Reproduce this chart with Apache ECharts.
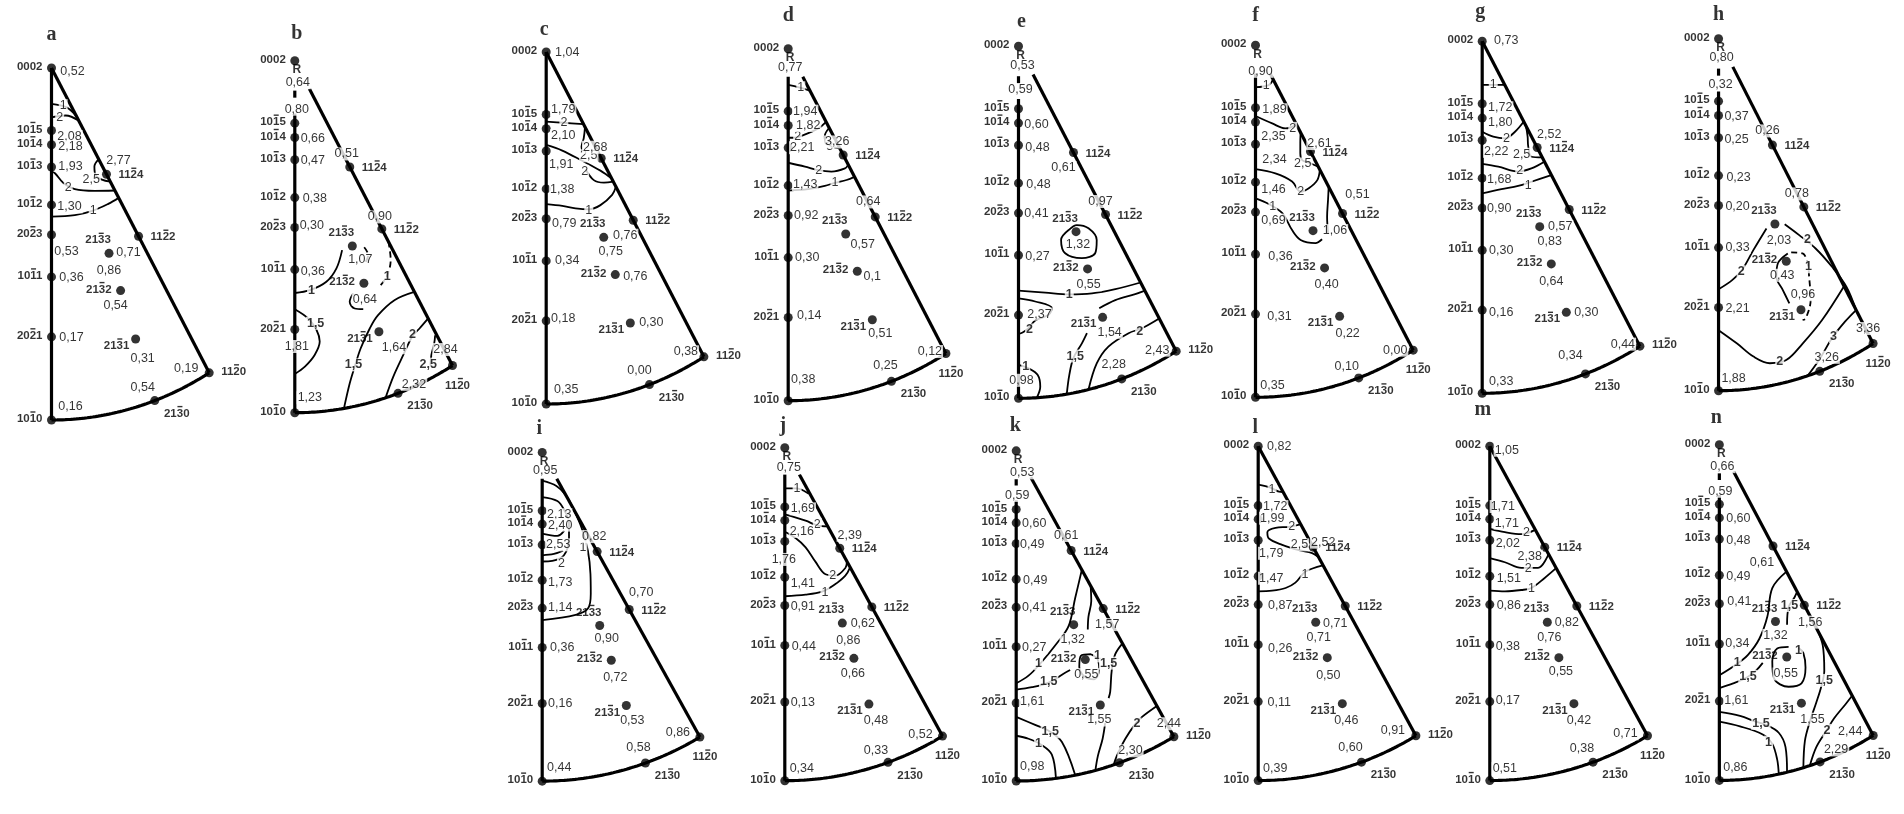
<!DOCTYPE html>
<html><head><meta charset="utf-8">
<script src="https://cdn.jsdelivr.net/npm/echarts/dist/echarts.min.js"></script>
<style>html,body{margin:0;padding:0;background:#fff}#c{width:1904px;height:814px}</style>
</head><body><div id="c"></div>
<script>
// ---------------- DATA ----------------
const PANELS = ['a','b','c','d','e','f','g','h','i','j','k','l','m','n'];
// pole names; the digit at position 2 (0-based) carries an overbar (negative index)
const poleNames = ['0002','1015','1014','1013','1012','2023','1011','2021','1010','1124','1122','1120','2130','2133','2132','2131'];
const poleBar   = [-1,2,2,2,2,2,2,2,2,2,2,2,2,2,2,2];
const poleHKL = [[0,0,2],[1,0,5],[1,0,4],[1,0,3],[1,0,2],[2,0,3],[1,0,1],[2,0,1],[1,0,0],[1,1,4],[1,1,2],[1,1,0],[2,1,0],[2,1,3],[2,1,2],[2,1,1]];
const C_OVER_A = 1.587;

const vals_a = [0.52,2.08,2.18,1.93,1.30,0.53,0.36,0.17,0.16,2.77,0.71,0.19,0.54,0.86,0.54,0.31];
const vals_b = [0.64,0.80,0.66,0.47,0.38,0.30,0.36,1.81,1.23,0.51,0.90,2.84,2.32,1.07,0.64,1.64];
const vals_c = [1.04,1.79,2.10,1.91,1.38,0.79,0.34,0.18,0.35,2.68,0.76,0.38,0.00,0.75,0.76,0.30];
const vals_d = [0.77,1.94,1.82,2.21,1.43,0.92,0.30,0.14,0.38,3.26,0.64,0.12,0.25,0.57,0.1,0.51];
const vals_e = [0.53,0.59,0.60,0.48,0.48,0.41,0.27,2.37,0.98,0.61,0.97,2.43,2.28,1.32,0.55,1.54];
const vals_f = [0.90,1.89,2.35,2.34,1.46,0.69,0.36,0.31,0.35,2.61,0.51,0.00,0.10,1.06,0.40,0.22];
const vals_g = [0.73,1.72,1.80,2.22,1.68,0.90,0.30,0.16,0.33,2.52,0.57,0.44,0.34,0.83,0.64,0.30];
const vals_h = [0.80,0.32,0.37,0.25,0.23,0.20,0.33,2.21,1.88,0.26,0.78,3.36,3.26,2.03,0.43,0.96];
const vals_i = [0.95,2.13,2.40,2.53,1.73,1.14,0.36,0.16,0.44,0.82,0.70,0.86,0.58,0.90,0.72,0.53];
const vals_j = [0.75,1.69,2.16,1.76,1.41,0.91,0.44,0.13,0.34,2.39,0.62,0.52,0.33,0.86,0.66,0.48];
const vals_k = [0.53,0.59,0.60,0.49,0.49,0.41,0.27,1.61,0.98,0.61,1.57,2.44,2.30,1.32,0.55,1.55];
const vals_l = [0.82,1.72,1.99,1.79,1.47,0.87,0.26,0.11,0.39,2.52,0.71,0.91,0.60,0.71,0.50,0.46];
const vals_m = [1.05,1.71,1.71,2.02,1.51,0.86,0.38,0.17,0.51,2.38,0.82,0.71,0.38,0.76,0.55,0.42];
const vals_n = [0.66,0.59,0.60,0.48,0.49,0.41,0.34,1.61,0.86,0.61,1.56,2.44,2.29,1.32,0.55,1.55];
const VALUES = {a:vals_a,b:vals_b,c:vals_c,d:vals_d,e:vals_e,f:vals_f,g:vals_g,h:vals_h,i:vals_i,j:vals_j,k:vals_k,l:vals_l,m:vals_m,n:vals_n};

// iso-density lines, in projection units (10-10 = (0,0), 0002 = (0,100))
const cont_a = [
 {lv:'1', at:[3.7,89.3], p:[[0,89.8],[4.8,88.8],[8.0,86.2]]},
 {lv:'2', at:[2.6,86], p:[[0,86],[4.5,86.5],[8.7,85]]},
 {lv:'2,5', at:[12.6,68.4], p:[[15.0,74.1],[13.6,72],[14.0,69.5],[16,68.3],[18.6,67.7]]},
 {lv:'2', at:[5.3,66.1], p:[[0,70.6],[1.1,70.1],[3.7,67.4],[7.4,65.6],[13.7,65.1],[20.1,65.2]]},
 {lv:'1', at:[13.2,59.5], p:[[0,57.8],[7.4,58.2],[13.2,59.5],[18,61.4],[21.3,63.1]]}
];
const cont_b = [
 {lv:'1', at:[5.3,34.8], p:[[0,34.0],[4.8,34.8],[10.0,37.2],[13.2,41.0],[15.0,46.2]]},
 {lv:'', dash:true, p:[[22.0,47.0],[23.3,44.8],[22.2,42.4]]},
 {lv:'1', dash:true, at:[29.3,38.8], p:[[29.7,48.6],[30.4,43.4],[29.1,38.6],[26.6,35.6]]},
 {lv:'', p:[[18.5,33.9],[17.4,31.5],[19.0,29.6],[21.7,29.4]]},
 {lv:'1,5', at:[6.6,25.4], p:[[0,29.4],[4.2,26.8],[6.9,23.5],[7.9,20.2],[6.3,16.4],[3.2,13.1],[0,11.0]]},
 {lv:'1,5', at:[18.6,13.6], p:[[37.9,34.3],[31.7,32.0],[26.4,27.7],[23.8,24.0],[20.9,18.3],[19.0,13.1],[17.4,8.3],[15.6,1.3]]},
 {lv:'2', at:[37.3,22.1], p:[[42.3,26.8],[39.6,24.0],[37.2,21.6],[34.4,16.4],[31.2,10.2],[28.8,4.3]]},
 {lv:'2,5', at:[42.3,13.8], p:[[44.5,22.0],[44.2,19.7],[43.3,16.4],[43.0,13.5]]}
];
const cont_c = [
 {lv:'2', at:[5.6,79.9], p:[[0,80.2],[5.6,79.9],[11.8,79.5]]},
 {lv:'2,5', at:[13.5,70.5], p:[[12.3,78.7],[11.9,75.5],[11.2,73.1],[11.6,71.4]]},
 {lv:'', p:[[0,73.6],[5.1,72.0],[11.4,69.1],[17.2,66.3],[20.7,64.1]]},
 {lv:'2', at:[12.2,66.1], p:[[12.5,66.7],[15.1,63.6],[18.3,62.9],[21.3,63.2]]},
 {lv:'1', at:[13.5,55.1], p:[[0,56.8],[5.1,56.3],[9.3,55.6],[13.5,55.3],[17.2,56.5],[20.9,59.4],[22.1,61.7]]}
];
const cont_d = [
 {lv:'1', at:[4.0,88.9], p:[[0,89.7],[3.4,89.0],[6.9,88.1]]},
 {lv:'2', at:[3.0,75.1], p:[[0,74.7],[1.6,74.7],[5.8,75.8],[9.5,77.3],[12.0,79.2]]},
 {lv:'3', at:[13.2,72.3], p:[[12.9,77.4],[11.6,75.2],[11.9,73.1],[13.7,72.2],[16.4,71.7]]},
 {lv:'2', at:[9.7,65.5], p:[[0,67.6],[5.3,66.5],[9.5,65.5],[13.7,65.1],[18.0,66.0],[19.0,67.0]]},
 {lv:'1', at:[14.8,61.9], p:[[0,59.7],[6.3,60.1],[11.6,61.0],[14.8,61.9],[18.5,62.7],[21.0,63.6]]}
];
const cont_e = [
 {lv:'', p:[[15.9,47.8],[13.5,45.0],[14.8,41.2],[20.1,39.8],[24.3,41.2],[24.8,45.0],[22.2,48.3],[18.5,49.2],[15.9,47.8]]},
 {lv:'1', at:[16.1,29.4], p:[[0,30.6],[8.5,30.0],[16.1,29.5],[23.3,29.8],[30.7,31.0],[38.7,32.9]]},
 {lv:'', p:[[25.6,25.6],[30.7,27.9],[37.0,29.6],[40.1,30.6]]},
 {lv:'2', at:[3.5,19.4], p:[[0,28.4],[5.3,27.5],[10.6,25.6],[9.5,23.7],[5.3,22.1],[3.2,19.9],[1.3,18.7],[0,18.3]]},
 {lv:'1', at:[2.3,9.0], p:[[0,9.5],[3.2,8.5],[6.1,6.6],[6.9,3.3],[5.8,0.2]]},
 {lv:'1,5', at:[18.0,12.0], p:[[21.7,18.5],[20.1,15.6],[17.4,11.4],[16.1,6.6],[15.3,1.2]]},
 {lv:'2', at:[38.4,18.9], p:[[44.6,22.7],[39.1,19.9],[34.9,18.5],[28.5,14.7],[24.8,9.9],[22.2,2.5]]}
];
const cont_f = [
 {lv:'1', at:[3.4,88.6], p:[[0,88.1],[4.2,88.7],[5.6,90.3]]},
 {lv:'2', at:[11.8,76.4], p:[[0,79.9],[5.3,77.8],[9.5,76.4],[13.0,77.4]]},
 {lv:'2,5', at:[15.0,66.3], p:[[14.3,75.2],[14.2,72.2],[14.2,69.3],[14.8,67.4],[17.4,66.5],[19.9,65.5]]},
 {lv:'2', at:[14.3,58.4], p:[[0,64.8],[6.3,63.6],[11.6,61.3],[14.3,58.4],[16.9,59.4],[19.6,61.7],[20.4,64.6]]},
 {lv:'1', at:[5.5,54.2], p:[[0,56.5],[4.2,54.9],[8.5,52.3],[11.6,47.5],[14.3,44.7],[19.0,43.8],[21.1,44.9]]},
 {lv:'', p:[[23.2,59.8],[23.0,56.1],[22.7,51.3],[23.0,46.6]]}
];
const cont_g = [
 {lv:'1', at:[3.5,87.6], p:[[0,87.6],[4.5,87.6],[7.2,87.6]]},
 {lv:'2', at:[7.7,72.4], p:[[0,74.3],[3.5,72.9],[7.2,72.4],[10.4,74.3],[13.2,77.2]]},
 {lv:'2,5', at:[12.5,67.9], p:[[13.9,75.9],[14.4,72.9],[14.6,70.1],[15.6,67.2],[19.1,67.0]]},
 {lv:'2', at:[11.9,63.3], p:[[0,65.2],[5.1,64.4],[11.4,63.0],[15.6,63.9],[19.7,65.8]]},
 {lv:'1', at:[14.6,59.1], p:[[0,56.8],[6.1,58.0],[11.4,58.9],[15.6,60.1],[21.9,62.0]]}
];
const cont_h = [
 {lv:'2', at:[7.3,33.8], p:[[0,28.8],[4.4,31.4],[7.6,34.3],[11.3,40.0],[15.5,46.1]]},
 {lv:'2', at:[28.8,42.8], p:[[21.4,47.3],[26.1,44.2],[31.4,40.4],[36.7,35.2],[41.4,29.5],[44.5,22.9]]},
 {lv:'2', at:[19.8,8.2], p:[[0,17.2],[6.0,13.4],[11.3,9.7],[16.6,7.8],[21.9,8.7],[27.2,13.4],[33.5,20.1],[40.6,29.7]]},
 {lv:'3', at:[37.2,15.3], p:[[28.8,4.2],[32.5,8.7],[36.7,14.9],[40.9,19.6],[44.5,22.9]]},
 {lv:'', p:[[22.4,39.0],[19.2,36.2],[18.7,32.4],[20.8,28.6],[22.9,24.8]]},
 {lv:'1', dash:true, at:[29.1,35.2], p:[[23.5,39.3],[27.2,39.0],[28.8,36.2],[29.3,32.4],[29.8,25.8],[28.2,20.5],[27.2,20.1]]}
];
const cont_i = [
 {lv:'1', at:[12.9,71.2], p:[[0,91.4],[4.5,89.8],[7.5,87.0],[10.0,82.5],[12.5,77.0],[14.5,70.0],[15.3,63.0],[15.4,57.0],[14.5,52.5],[10.6,50.6],[0,49.0]]},
 {lv:'2', at:[6.1,66.3], p:[[0,86.4],[4.8,85.2],[7.0,82.4],[8.5,78.6],[8.5,73.9],[6.9,68.7],[3.2,67.0],[0,66.8]]},
 {lv:'', p:[[0,75.3],[4.8,74.6],[7.0,76.2]]},
 {lv:'', p:[[0,68.7],[3.7,69.1],[6.6,70.1]]}
];
const cont_j = [
 {lv:'1', at:[3.9,87.8], p:[[0,87.8],[3.9,87.8],[6.0,87.1],[7.6,86.2]]},
 {lv:'2', at:[10.3,77.0], p:[[0,80.0],[6.6,78.1],[10.3,76.7],[13.6,76.4]]},
 {lv:'2', at:[15.2,61.6], p:[[0,74.8],[3.4,72.9],[6.6,70.1],[9.7,65.8],[12.9,62.0],[16.1,61.6],[19.2,63.9],[19.7,65.8]]},
 {lv:'1', at:[12.7,56.5], p:[[0,55.4],[6.6,55.9],[11.8,56.8],[15.5,58.7],[19.2,61.6],[20.7,64.1]]}
];
const cont_k = [
 {lv:'1', at:[7.1,35.5], p:[[0,29.6],[3.9,31.9],[7.6,35.5],[12.9,41.7],[16.6,46.9],[18.7,55.4],[20.8,63.9]]},
 {lv:'', p:[[23.6,59.2],[23.8,54.5],[22.9,49.7],[22.7,45.9]]},
 {lv:'1,5', at:[10.3,30.0], p:[[0,27.7],[5.0,28.4],[10.3,29.8],[15.0,32.5],[17.1,33.6]]},
 {lv:'1', at:[25.8,37.9], p:[[23.7,38.4],[20.5,37.9],[20.0,34.6],[21.6,31.7],[24.7,30.8],[26.3,33.6],[25.8,36.9],[23.7,38.4]]},
 {lv:'1,5', at:[29.3,35.7], p:[[33.7,41.7],[31.4,38.4],[30.3,33.6],[29.8,27.0],[29.3,25.1]]},
 {lv:'1,5', at:[10.8,14.9], p:[[0,19.4],[6.0,17.0],[10.3,15.2],[14.5,11.8],[18.7,1.8]]},
 {lv:'1', at:[7.1,11.4], p:[[0,13.7],[3.9,12.8],[8.1,10.9],[11.3,8.0],[12.6,0.8]]},
 {lv:'2', at:[38.3,17.3], p:[[44.6,22.7],[39.9,19.4],[37.8,17.3],[34.6,12.8],[31.9,7.6],[30.9,4.9]]},
 {lv:'', p:[[28.2,17.5],[27.4,12.8],[25.9,7.6],[25.1,3.2]]}
];
const cont_l = [
 {lv:'1', at:[4.4,87.1], p:[[0,88.5],[3.9,87.6],[6.6,86.4],[7.9,86.3]]},
 {lv:'2', at:[10.6,75.9], p:[[13.6,76.7],[9.7,75.9],[5.5,75.6],[2.9,74.3],[3.4,72.4],[7.6,70.5],[12.9,68.9],[17.1,68.0],[19.2,66.8]]},
 {lv:'2,5', at:[13.1,70.5], p:[[14.5,70.3],[16.6,69.7],[18.1,69.0]]},
 {lv:'1', at:[14.8,61.6], p:[[0,56.6],[4.4,56.8],[8.7,57.6],[11.8,59.2],[15.0,62.5],[20.5,64.4]]}
];
const cont_m = [
 {lv:'2', at:[11.6,74.1], p:[[0,75.3],[4.8,74.3],[10.0,73.7],[14.4,75.0]]},
 {lv:'2', at:[12.2,63.4], p:[[0,66.5],[4.8,65.3],[10.0,63.6],[15.3,63.6],[18.6,67.7]]},
 {lv:'1', at:[13.2,57.3], p:[[0,56.8],[4.8,56.6],[10.0,57.0],[13.2,57.6],[17.4,60.6],[21.1,63.6]]}
];
const cont_n = [
 {lv:'1', at:[5.8,35.0], p:[[0,31.3],[5.6,34.6],[9.3,37.4],[13.0,42.2],[15.6,48.8],[17.2,57.3],[21.8,62.2]]},
 {lv:'1,5', at:[9.3,31.0], p:[[0,27.5],[4.5,28.9],[8.8,30.6],[11.9,32.7],[14.1,35.0]]},
 {lv:'1', at:[25.7,38.8], p:[[22.5,39.8],[18.8,39.3],[17.2,35.5],[17.8,30.3],[22.5,27.9],[26.7,28.9],[28.0,33.6],[27.3,37.9],[25.7,39.5]]},
 {lv:'1,5', at:[22.8,52.1], p:[[25.3,56.2],[24.4,54.5],[22.5,51.6],[22.0,46.4]]},
 {lv:'1,5', at:[34.1,29.8], p:[[31.8,45.0],[33.6,40.2],[34.1,32.7],[33.1,27.9],[31.5,23.2],[29.4,17.5],[27.8,11.8],[27.3,3.8]]},
 {lv:'1,5', at:[13.5,17.0], p:[[0,20.4],[6.7,19.2],[11.9,17.5],[15.1,16.6],[19.3,14.2],[21.5,9.9],[22.0,2.4]]},
 {lv:'1', at:[16.0,11.4], p:[[0,17.5],[6.7,16.1],[14.1,13.7],[17.2,10.9],[18.8,6.2],[19.3,1.9]]},
 {lv:'2', at:[35.0,14.9], p:[[43.2,25.3],[41.0,22.7],[37.3,18.5],[34.7,14.7],[31.5,9.9],[29.4,4.4]]}
];
const CONTOURS = {a:cont_a,b:cont_b,c:cont_c,d:cont_d,e:cont_e,f:cont_f,g:cont_g,h:cont_h,i:cont_i,j:cont_j,k:cont_k,l:cont_l,m:cont_m,n:cont_n};

// ---------------- LAYOUT (positions / styles) ----------------
const ORIGIN = {a:[50,420],b:[293.3,412.7],c:[544.7,404],d:[786.7,400.7],e:[1017,398.3],f:[1254,397.3],g:[1480.7,393.3],h:[1718,390.7],
  i:[540.7,806.7],j:[783.3,801.7],k:[1014.7,805],l:[1256.7,800],m:[1488.3,800],n:[1719,798.3]};
const RSTYLE = {b:1,d:1,e:1,f:1,h:1,i:1,j:1,k:1,n:1};
const TOPGAP = {b:1,e:1,h:1,k:1,n:1};
const RIGHT1120 = {a:1,c:1,e:1,g:1,k:1,l:1};
const BOLDLBL = {b:1,e:1,h:1,k:1,n:1};
const LETTER_OFF = {a:[0,-33],b:[2,-27],c:[-2,-22],d:[0,-33],e:[3,-24],f:[0,-29],g:[-2,-29],h:[0,-24],i:[-3,-24],j:[-2,-22],k:[-1,-25],l:[-3,-18],m:[-7,-36],n:[-3,-27]};
const VOFF = {
 a:[[21,4],[18,6],[19,2],[19,0],[18,2],[15,17],[20,1],[20,1],[19,-13],[12,-14],[-10,16],[-23,-4],[-12,-13],[0,17],[-5,15],[7,20]],
 b:[[3,22],[2,-14],[18,1],[18,1],[20,1],[17,-2],[18,2],[2,17],[15,-15],[-3,-13],[-2,-12],[-7,-16],[16,-9],[8,14],[1,16],[15,16]],
 c:[[21,1],[17,-5],[17,7],[15,14],[16,1],[18,5],[21,0],[17,-2],[20,-14],[-6,-11],[-8,15],[-18,-5],[-10,-14],[7,14],[20,2],[21,0]],
 d:[[2,19],[17,0],[20,0],[14,0],[17,-1],[18,0],[19,0],[21,-2],[15,-21],[-6,-13],[-7,-15],[-16,-2],[-6,-16],[17,11],[15,5],[8,14]],
 e:[[4,19],[2,-19],[18,1],[19,2],[20,1],[18,0],[19,1],[21,-1],[3,-18],[-10,15],[-5,-13],[-19,-1],[-8,-14],[2,13],[1,16],[7,15]],
 f:[[5,26],[19,2],[18,14],[19,15],[18,7],[18,8],[25,2],[24,2],[17,-12],[9,-8],[15,-19],[-18,0],[-12,-11],[22,0],[2,17],[8,17]],
 g:[[24,-1],[18,4],[18,4],[14,11],[17,1],[17,0],[19,0],[19,2],[19,-12],[12,-13],[-9,17],[-17,-2],[-15,-18],[10,15],[0,18],[20,0]],
 h:[[3,19],[2,-17],[18,1],[18,2],[20,2],[19,1],[19,0],[19,1],[15,-12],[-5,-14],[-7,-13],[-5,-15],[7,-14],[4,17],[-4,14],[2,-15]],
 i:[[3,18],[17,4],[18,1],[16,0],[18,2],[18,-1],[20,0],[18,0],[17,-14],[-3,-15],[12,-17],[-22,-5],[-7,-15],[7,13],[4,17],[6,15]],
 j:[[4,20],[18,2],[17,11],[-1,18],[18,6],[18,1],[19,1],[18,1],[17,-12],[10,-13],[-9,17],[-22,-2],[-12,-12],[6,17],[-1,15],[7,16]],
 k:[[6,22],[1,-14],[18,1],[16,1],[19,1],[18,0],[18,1],[16,-1],[16,-14],[-5,-15],[4,16],[-5,-13],[11,-12],[-1,15],[1,15],[-1,15]],
 l:[[21,0],[17,1],[14,-1],[13,13],[13,2],[22,1],[22,4],[21,1],[17,-12],[10,-5],[-10,18],[-23,-5],[-11,-15],[3,15],[1,18],[4,17]],
 m:[[17,4],[13,1],[17,4],[18,3],[19,2],[19,1],[18,2],[18,-1],[15,-12],[-15,9],[-10,17],[-22,-2],[-11,-14],[2,15],[2,14],[5,17]],
 n:[[3,22],[1,-13],[19,1],[19,1],[19,1],[20,-2],[18,0],[17,-1],[16,-13],[-11,17],[6,17],[-23,-4],[16,-12],[0,14],[-1,17],[11,16]]
};
const DECIMALS = {d:{14:1}};

// ---------------- FONTS ----------------
function hasFont(f){const c=document.createElement('canvas').getContext('2d');c.font='20px monospace';const a=c.measureText('0,52 abcxyz').width;c.font='20px "'+f+'", monospace';return c.measureText('0,52 abcxyz').width!==a;}
const NARROW = hasFont('Liberation Sans Narrow');
const VFONT = NARROW ? '"Liberation Sans Narrow", "Liberation Sans", sans-serif' : '"Liberation Sans", sans-serif';
const VSIZE = NARROW ? 14 : 12.5;
const PFONT = '"Liberation Sans", "DejaVu Sans", sans-serif';
const PSIZE = 11.5;
const mctx = document.createElement('canvas').getContext('2d');
mctx.font = 'bold ' + PSIZE + 'px ' + PFONT;
const tw = t => mctx.measureText(t).width;

// ---------------- GEOMETRY (stereographic projection) ----------------
const SQ3 = Math.sqrt(3);
function polePos(hkl){
  const [h,k,l]=hkl; const s=Math.sqrt(h*h+h*k+k*k);
  const th = l===0 ? Math.PI/2 : Math.atan((2/SQ3)*C_OVER_A*s/l);
  const phi = Math.atan2((h+2*k)/SQ3,h) - Math.PI/6;
  const r = 100*Math.tan(th/2);
  return [r*Math.sin(phi), 100 - r*Math.cos(phi)];
}
const POS = poleHKL.map(polePos);
const T30 = Math.tan(Math.PI/6);
const arcPts = []; for(let i=0;i<=60;i++){const f=i/60*Math.PI/6; arcPts.push([100*Math.sin(f),100-100*Math.cos(f)]);}

// ---------------- BUILD ----------------
const KX=3.154, KY=3.52, XMIN=-15, XMAX=60, YMIN=-10, YMAX=110;
const grid=[], xAxis=[], yAxis=[], series=[];
PANELS.forEach((p,gi)=>{
  const [x0,y0]=ORIGIN[p];
  grid.push({left:x0+1.5+XMIN*KX, top:y0-YMAX*KY, width:(XMAX-XMIN)*KX, height:(YMAX-YMIN)*KY});
  xAxis.push({type:'value',gridIndex:gi,min:XMIN,max:XMAX,show:false});
  yAxis.push({type:'value',gridIndex:gi,min:YMIN,max:YMAX,show:false});
  const base={xAxisIndex:gi,yAxisIndex:gi,animation:false,silent:true,clip:false};
  const addLine=(data,w,extra)=>series.push(Object.assign({},base,{type:'line',data,symbol:'none',lineStyle:Object.assign({color:'#000',width:w},extra&&extra.ls||{}),smooth:extra&&extra.smooth||false,z:2}));
  // outline
  const leftTop = RSTYLE[p] ? (TOPGAP[p]?85:92) : 100;
  const diagTop = RSTYLE[p] ? 92 : 100;
  addLine([[0,0],[0,leftTop]],3.2);
  if(TOPGAP[p]) addLine([[0,89.5],[0,91.5]],3.2);
  addLine([[(100-diagTop)*T30,diagTop],POS[11]],3.2);
  addLine(arcPts,3.2);
  // contours
  const bold = BOLDLBL[p]?'bold':'normal';
  const clabels=[];
  CONTOURS[p].forEach(c=>{
    addLine(c.p,1.8,{smooth:0.35, ls:c.dash?{type:[6,4]}:{}});
    if(c.lv && c.at) clabels.push({value:c.at,label:{formatter:c.lv}});
  });
  series.push(Object.assign({},base,{type:'scatter',z:4,symbolSize:1,itemStyle:{color:'rgba(0,0,0,0)'},data:clabels,
    label:{show:true,position:'inside',color:'#000',fontFamily:VFONT,fontSize:VSIZE,fontWeight:bold,backgroundColor:'#fff',padding:[0,1]}}));
  // dots
  series.push(Object.assign({},base,{type:'scatter',z:3,symbolSize:9,itemStyle:{color:'#000'},data:POS.map(q=>q.slice())}));
  // pole names (+ overbar over the negative index)
  const bars=[];
  const names = POS.map((q,idx)=>{
    let lab;
    if(idx<=8) lab={align:'right',offset:[-9,-1]};
    else if(idx<=10) lab={align:'left',offset:[12,1]};
    else if(idx===11) lab = RIGHT1120[p] ? {align:'left',offset:[12,-1]} : {align:'center',offset:[5,20]};
    else if(idx===12) lab={align:'center',offset:[22,13]};
    else if(idx===13) lab={align:'center',offset:[-11,-13]};
    else if(idx===14) lab={align:'right',offset:[-9,-1]};
    else lab={align:'center',offset:[-19,7]};
    const txt = poleNames[idx];
    lab.formatter = txt;
    const bi = poleBar[idx];
    if(bi>=0){
      const W = tw(txt);
      const left = lab.align==='right' ? lab.offset[0]-W : lab.align==='left' ? lab.offset[0] : lab.offset[0]-W/2;
      const cx = left + (tw(txt.slice(0,bi)) + tw(txt.slice(0,bi+1)))/2;
      bars.push({value:q.slice(), symbolOffset:[cx, lab.offset[1]-7]});
    }
    return {value:q.slice(),label:lab};
  });
  series.push(Object.assign({},base,{type:'scatter',z:5,symbolSize:1,itemStyle:{color:'rgba(0,0,0,0)'},data:names,
    label:{show:true,position:'inside',verticalAlign:'middle',color:'#000',fontFamily:PFONT,fontSize:PSIZE,fontWeight:'bold'}}));
  series.push(Object.assign({},base,{type:'scatter',z:5,symbol:'rect',symbolSize:[5,1.4],itemStyle:{color:'#000'},data:bars}));
  // values
  const vals = VALUES[p].map((v,idx)=>{
    const dec = (DECIMALS[p]&&DECIMALS[p][idx]!==undefined)?DECIMALS[p][idx]:2;
    return {value:POS[idx].slice(),label:{formatter:v.toFixed(dec).replace('.',','),offset:VOFF[p][idx]}};
  });
  series.push(Object.assign({},base,{type:'scatter',z:4,symbolSize:1,itemStyle:{color:'rgba(0,0,0,0)'},data:vals,
    label:{show:true,position:'inside',align:'center',verticalAlign:'middle',color:'#000',fontFamily:VFONT,fontSize:VSIZE,backgroundColor:'#fff',padding:[0,1]}}));
  // panel letter and R marker
  const ex=[{value:POS[0].slice(),label:{formatter:p,offset:LETTER_OFF[p],fontFamily:'"Liberation Serif", serif',fontSize:20,fontWeight:'bold'}}];
  if(RSTYLE[p]) ex.push({value:POS[0].slice(),label:{formatter:'R',offset:[2,9],fontFamily:PFONT,fontSize:12,fontWeight:'bold'}});
  series.push(Object.assign({},base,{type:'scatter',z:6,symbolSize:1,itemStyle:{color:'rgba(0,0,0,0)'},data:ex,
    label:{show:true,position:'inside',align:'center',verticalAlign:'middle',color:'#000'}}));
});
const chart = echarts.init(document.getElementById('c'), null, {renderer:'canvas'});
chart.setOption({animation:false, backgroundColor:'#fff', grid, xAxis, yAxis, series});
</script></body></html>
